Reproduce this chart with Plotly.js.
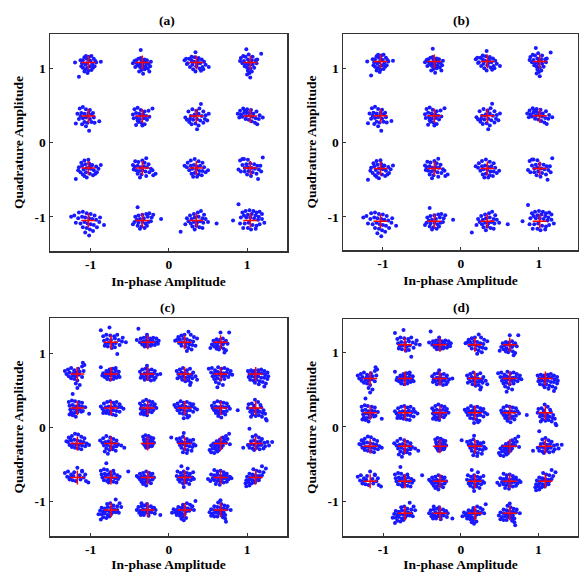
<!DOCTYPE html>
<html><head><meta charset="utf-8">
<script src="https://cdn.plot.ly/plotly-3.0.1.min.js"></script>
<style>html,body{margin:0;padding:0;background:#fff;} #chart{width:579px;height:572px;}</style>
</head><body><div id="chart"></div>
<script>
// ---- text ----
const panelTitles = ['(a)', '(b)', '(c)', '(d)'];
const xAxisTitle = 'In-phase Amplitude';
const yAxisTitle = 'Quadrature Amplitude';
const tickVals = [-1, 0, 1];
const tickText = ['-1', '0', '1'];

// ---- ideal constellation points (red crosses) ----
const colsA = [-1.03, -0.34, 0.35, 1.04];
const rowsA = [1.08, 0.36, -0.34, -1.05];
const colsB = [-1.03, -0.34, 0.34, 1.01];
const rowsB = [1.09, 0.36, -0.35, -1.06];
const colsC = [-1.17, -0.74, -0.27, 0.20, 0.66, 1.11];
const rowsC = [1.15, 0.72, 0.26, -0.22, -0.68, -1.12];
const colsD = [-1.17, -0.72, -0.27, 0.18, 0.63, 1.09];
const rowsD = [1.10, 0.65, 0.19, -0.26, -0.73, -1.16];

// ---- received symbol offsets from each ideal point (hundredths), read per cluster ----
// 16-QAM clusters, rows top->bottom, columns left->right (panels a and b show the same noise pattern)
const noise16 = [
"-17,0 -12,-19 -7,3 -5,7 -3,9 1,8 4,9 7,5 10,0 5,-2 2,-5 -1,-7 -4,-9 -7,-7 -9,-5 -2,-1 3,2 0,-11 -5,-12 6,-7 -8,-1 8,-5 -2,5 -4,-3 16,1 1,3 -10,3 4,-10 -1,-14 9,2",
"-2,17 -12,-1 11,1 -8,3 -5,5 -2,6 3,4 6,3 8,-2 4,-5 0,-3 -3,-6 -6,-4 -9,-6 -1,-10 3,-9 7,-8 -4,-12 1,-15 9,-12 -7,-1 2,1 -1,2 5,-1 -3,-2 10,-5 -10,2 0,-7",
"-1,14 -15,3 16,-6 -12,-2 -9,5 -6,8 -2,7 3,6 7,4 10,1 12,-3 8,-6 4,-8 0,-5 -4,-9 -8,-6 -11,-1 -3,1 1,-2 5,-1 -1,-12 6,-11 -6,3 2,3 9,-9 -13,5 -5,-3",
"14,12 -5,18 0,-20 -12,6 -9,9 -6,8 -2,11 3,8 -13,2 -8,2 -3,4 2,3 7,3 -6,-2 -2,-3 3,-3 8,-1 -4,-7 0,-8 -3,-11 -1,-14 -4,-16 2,-12 -7,-5 5,-7 -10,-1 9,4 -1,1",
"-16,-10 1,-20 14,-7 -11,10 -7,12 -3,9 2,8 -14,3 -9,4 -5,3 0,4 4,2 7,-2 -12,-4 -7,-3 -3,-2 2,-4 -5,-8 -1,-9 4,-8 -8,-11 -3,-14 -10,0 6,4 -1,0 8,-9",
"13,10 -12,2 -10,9 -6,11 -2,8 3,6 -8,4 -4,3 1,2 5,0 -11,-3 -7,-2 -3,-4 2,-3 6,-5 9,-1 -5,-8 -1,-9 3,-11 -8,-12 0,-13 8,7 -2,1 -6,-6",
"6,16 1,-18 16,3 -14,-2 -10,6 -5,9 0,7 4,10 9,6 12,1 -12,-5 -7,0 -2,2 3,3 7,0 11,-4 -9,-8 -4,-5 1,-4 5,-6 9,-9 -6,-11 -1,-10 3,-13 -3,0 -8,-4 14,-6",
"16,-2 -16,3 -13,7 -9,10 -4,9 1,8 -12,2 -8,4 -4,5 0,4 4,3 8,6 -10,-1 -5,0 -1,1 3,-1 7,-3 11,-4 -6,-4 -2,-5 2,-7 6,-9 9,-11 -14,-2 12,1 -7,7",
"-16,-15 16,4 -12,1 -9,7 -5,10 0,11 -13,-3 -8,3 -4,5 1,6 5,4 10,2 13,-1 -10,-6 -6,-2 -2,0 3,-1 7,-3 11,-6 -7,-9 -3,-6 2,-8 6,-10 -2,-13 -5,-11 3,2 9,-8",
"5,13 -12,4 17,-8 -9,9 -5,8 0,10 3,7 8,5 -10,2 -6,3 -2,1 2,2 6,1 11,-1 -8,-3 -4,-4 0,-3 4,-5 9,-6 13,-3 -6,-8 -1,-9 5,-11 -3,-13 14,-10 -11,-2",
"-15,3 15,-3 -11,7 -7,10 -2,12 3,9 8,7 -12,1 -7,3 -3,4 1,2 5,3 10,1 -9,-3 -5,-1 0,-2 4,-4 8,-4 12,-6 -6,-8 -2,-7 3,-9 7,-10 -4,-12 1,-12",
"16,14 10,-15 -15,-2 -13,10 -8,12 -3,11 -10,4 -5,5 0,6 5,5 9,3 -7,0 -3,1 2,0 6,-1 11,-2 14,-5 -12,-5 -7,-5 -2,-4 3,-6 8,-8 -4,-9 1,-11 -10,12 13,3",
"-22,5 1,-20 20,-6 -16,-3 -12,11 -7,12 -2,10 3,9 8,7 -13,3 -8,5 -4,4 1,3 5,2 10,1 14,-2 -10,-4 -5,-2 -1,-4 3,-5 7,-6 11,-9 -7,-9 -2,-10 2,-12 6,-14 -4,-16 15,4 -18,7",
"-6,18 24,2 -12,-5 -9,5 -5,7 0,8 5,9 9,10 14,8 -7,1 -3,2 2,3 7,5 12,4 -10,-2 -5,-3 0,-2 4,-4 8,-2 -6,-7 -1,-8 3,-10 6,-7 -3,-11 11,-1",
"-20,-15 26,-4 -12,3 -8,7 -3,9 2,11 6,13 10,8 -10,-1 -6,2 -2,4 3,5 8,3 12,2 15,-2 -7,-4 -3,-2 1,-3 5,-1 9,-3 -5,-8 0,-7 4,-9 8,-10 -2,-12 -14,-5",
"-15,22 -22,0 -10,11 -6,13 -1,14 4,13 8,11 12,12 15,9 -8,7 -3,8 2,9 7,7 11,5 -12,4 -5,4 0,4 5,3 10,1 15,2 -13,-4 -7,-4 -2,-3 3,-6 8,-7 12,-5 -9,-10 -3,-10 1,-12 7,-11 18,-3"
];

// 32-QAM (cross) clusters, rows top->bottom, columns left->right, corners empty (panels c and d share the pattern)
const noise32 = [
"-13,16 -2,20 8,-16 19,0 -10,8 -6,10 -1,9 4,8 8,10 -9,2 -5,4 0,3 5,5 10,3 14,1 -7,-2 -3,-1 2,-3 6,-1 11,-4 -4,-6 1,-8 5,-7 -8,-5 15,6",
"-12,18 -14,3 14,2 -9,5 -5,6 -1,7 3,5 7,6 11,5 -10,0 -6,1 -2,2 2,1 6,2 10,0 13,-2 -7,-3 -3,-2 1,-4 5,-3 9,-4 -4,-6 0,-6 4,-5 -1,10",
"5,14 16,5 -12,2 -8,7 -4,9 0,10 8,10 12,7 -10,3 -6,4 -1,5 3,4 7,2 11,1 -7,-1 -3,0 2,-1 6,-3 10,-4 14,-5 -4,-5 1,-6 5,-8 9,-10 3,-12",
"0,13 11,13 -13,-8 -9,2 -5,4 -1,3 3,5 7,2 -11,-3 -7,-1 -3,0 1,-1 5,0 9,-2 -8,-6 -4,-5 0,-7 4,-9 7,-11 -2,-10 5,-14 3,-3 -5,-9",
"7,15 0,-19 -16,4 -12,6 -8,8 -4,5 1,7 6,10 9,12 -14,0 -10,2 -5,1 -1,2 3,3 8,4 -11,-3 -6,-2 -2,-3 2,-1 6,-4 -8,-6 -4,-7 0,-9 -2,-13 3,-15",
"-13,9 -10,1 -6,4 -2,6 2,7 6,5 10,3 -11,-2 -7,0 -3,1 1,2 5,1 9,-1 11,-4 -8,-4 -4,-3 0,-2 4,-3 7,-5 -5,-7 -1,-8 3,-7 -2,3 6,8",
"-10,3 -7,6 -3,7 1,5 5,6 9,4 -8,-1 -4,1 0,2 4,0 8,1 12,-1 16,0 -6,-4 -2,-3 2,-4 6,-3 10,-5 -4,-8 0,-7 4,-9 8,-8 -1,11 -9,-5",
"-10,4 -6,6 -2,8 3,5 7,7 11,2 -8,0 -4,2 0,1 4,0 9,-1 14,-3 16,-8 -6,-4 -2,-3 2,-5 6,-4 10,-6 -3,-8 1,-10 5,-9 8,-12 7,-15 -9,-6",
"-15,7 -11,8 -7,5 -3,9 1,7 5,8 9,6 13,4 -12,2 -8,1 -4,3 0,2 4,1 8,2 12,0 15,-1 -10,-3 -6,-2 -2,-1 2,-3 6,-2 10,-4 -8,-7 -4,-6 0,-8 5,-7 -6,-11 -2,-13 -4,-18 3,-15",
"-10,4 -6,5 -2,4 3,5 7,6 11,4 15,2 -8,0 -4,1 0,0 4,2 8,1 12,-1 16,-3 -9,-4 -5,-3 -1,-4 3,-3 7,-5 11,-5 15,-7 -7,-8 -3,-9 1,-8 5,-10 9,-11 13,-13 -1,-12 4,-14 11,-17",
"-6,19 15,-8 -11,8 -7,10 -3,9 2,8 6,7 -10,3 -6,4 -2,2 2,3 6,2 10,1 -9,-2 -5,-1 -1,-3 3,-2 7,-4 -8,-6 -4,-7 0,-6 -6,-10 -2,-12 5,-5 -10,-9",
"-13,2 -9,6 -5,8 -1,9 3,7 7,8 11,5 -11,-1 -7,1 -3,2 1,1 5,3 9,1 13,1 16,-1 -9,-4 -5,-3 -1,-4 3,-3 7,-4 11,-5 -6,-7 -2,-8 2,-9 6,-10 -10,-7",
"-10,6 -6,9 -2,11 2,9 6,8 9,5 -8,3 -4,4 0,3 4,4 8,2 11,0 -9,-1 -5,-1 -1,-2 3,-1 7,-3 -7,-5 -3,-6 1,-5 5,-6 -5,-9 -1,-10 -9,-8",
"-13,4 -9,6 -5,9 -1,7 3,8 7,6 11,5 -11,1 -7,2 -3,3 1,2 5,1 9,2 13,0 16,-2 -9,-3 -5,-2 -1,-3 3,-4 7,-3 11,-5 -6,-7 -2,-8 2,-9 6,-11 -1,-14 4,-13",
"22,-3 -11,3 -8,7 -4,9 0,8 4,7 8,6 -10,0 -6,2 -2,1 2,2 6,1 10,2 12,-1 -8,-3 -4,-4 0,-3 4,-5 8,-4 -6,-7 -2,-8 2,-7 6,-9 -3,-11 1,-13 -7,-2",
"-1,11 3,8 -9,5 -5,6 -2,3 6,4 -10,0 -6,-1 -2,1 2,-2 7,1 10,-3 -7,-5 -3,-4 1,-6 5,-5 9,-7 12,-8 -4,-9 0,-11 4,-10 8,-12 13,-15 14,-17 -6,-12",
"-14,3 -11,8 -7,10 -3,13 1,12 5,9 9,7 -12,2 -8,4 -4,5 0,4 4,3 8,2 12,0 15,-2 -10,-2 -6,-1 -2,-1 2,-2 6,-3 10,-4 -7,-5 -3,-6 1,-7 5,-8 -9,6",
"-14,4 -10,7 -6,10 -1,8 3,6 7,4 -11,1 -7,2 -3,3 1,1 5,0 9,-1 13,-3 17,-6 -9,-3 -5,-2 -1,-4 3,-5 7,-4 -6,-7 -2,-9 2,-8 6,-10 -4,-14 -8,-11",
"-6,9 -3,11 1,10 4,8 7,7 -5,5 -1,6 3,4 6,3 -4,2 0,1 4,0 8,1 -5,-1 -1,-2 3,-3 6,-2 -3,-4 1,-5 5,-4 -2,-6 2,3",
"-17,8 -1,14 -10,6 -6,7 -2,9 3,6 7,4 11,5 -8,2 -4,3 0,1 4,2 8,1 12,-1 14,-3 -6,-2 -2,-1 2,-3 6,-4 10,-5 -4,-6 0,-8 4,-9 -2,-12 3,-13 9,-10",
"11,13 7,10 3,8 -1,5 5,5 9,6 -5,3 -1,1 3,2 7,1 -9,0 -5,-1 -1,-2 3,-3 12,-1 -12,-3 -7,-4 -3,-5 1,-6 -10,-7 -6,-8 -2,-9 -14,-9 -12,-12 -8,-13 -4,-11",
"-8,20 21,2 -16,-6 -4,9 0,11 4,8 8,6 -6,3 -2,4 2,2 6,3 11,1 15,2 -10,-2 -6,-1 -2,-2 3,-3 7,-2 12,-4 17,-3 -8,-6 -4,-7 1,-6 5,-8 10,-7 -2,-9",
"0,13 -16,6 -12,8 -8,4 -4,7 6,9 10,4 -13,1 -9,0 -5,2 3,3 8,0 -10,-3 -6,-4 4,-3 11,-5 14,-7 -2,-5 6,8",
"22,8 -6,19 -13,9 -9,11 -5,10 -1,7 3,9 -12,4 -8,5 -4,4 0,3 4,5 8,3 -11,0 -7,1 -3,-1 1,0 5,-1 9,-2 11,1 -9,-4 -5,-5 -1,-4 3,-6 7,-7 -3,-7",
"-14,2 -10,5 -6,6 -2,8 2,6 6,5 -12,0 -8,1 -4,2 0,1 4,2 8,0 -10,-3 -6,-2 -2,-3 2,-4 6,-3 -8,-6 -4,-7 0,-6 4,-8 -2,-11 -6,-9",
"-4,15 4,12 -9,8 -5,6 -1,8 3,6 7,5 11,7 -10,2 -6,1 -2,3 2,1 6,2 10,0 12,-2 -8,-3 -4,-2 0,-4 4,-3 8,-4 -6,-6 -2,-8 2,-7 6,-9 -1,-13",
"-16,-2 -8,10 -4,8 0,9 4,7 8,5 -12,4 -8,3 -4,4 0,2 4,3 8,2 12,1 14,-1 -10,-1 -6,0 -2,-1 2,-2 6,-1 10,-3 -13,-5 -8,-4 -4,-5 0,-6 4,-7 -6,-9 -1,-10 8,-6",
"8,15 13,12 -3,11 1,9 5,8 10,7 -8,5 -4,4 0,3 4,2 8,3 -11,1 -7,0 -3,1 1,-1 5,0 -12,-4 -8,-3 -4,-4 0,-5 4,-4 -13,-8 -9,-7 -5,-8 -1,-7 -12,-12 -8,-11",
"6,14 11,9 -5,8 -1,9 3,6 8,5 13,4 -12,3 -8,2 -4,4 0,3 4,1 8,0 -14,-1 -10,-2 -6,-1 -2,-2 2,-3 6,-3 10,-4 -16,-6 -12,-6 -8,-5 -4,-7 0,-6 -10,-10 -6,-11 -2,-9 -13,-13",
"-8,9 -1,8 -12,4 -8,5 -4,6 0,4 4,5 8,3 -14,0 -10,-1 -6,1 -2,0 2,-1 6,1 10,0 -11,-4 -7,-3 -3,-4 1,-5 5,-3 9,-5 16,-7 -5,-7 1,-8 -9,-7",
"14,12 3,9 7,7 10,5 -2,7 -8,4 -4,3 0,4 4,2 8,1 12,0 -14,1 -10,0 -6,-1 -2,0 2,-2 6,-1 -16,-4 -12,-3 -8,-4 -4,-5 0,-6 -10,-7 -6,-8 -2,-9 -4,-12 -1,-14 2,-11",
"0,13 -3,10 1,8 5,6 9,5 -8,5 -4,4 0,3 4,2 8,1 13,0 -12,1 -8,0 -4,-1 0,-2 4,-3 -14,-3 -10,-5 -6,-4 -2,-5 2,-6 6,-7 -12,-8 -8,-9 -4,-9 3,-10 6,-12 7,-16"
];

function parseCluster(s) {
  return s.trim().split(/\s+/).map(p => p.split(',').map(Number));
}

// build constellation points: list of [cx, cy] in cluster order
function gridPoints(cols, rows, crossShape) {
  const pts = [];
  const n = cols.length;
  rows.forEach((y, r) => cols.forEach((x, c) => {
    const corner = crossShape && (r === 0 || r === rows.length - 1) && (c === 0 || c === n - 1);
    if (!corner) pts.push([x, y]);
  }));
  return pts;
}

function panelTraces(cols, rows, noise, crossShape, ax) {
  const ideal = gridPoints(cols, rows, crossShape);
  const rx = [], ry = [];
  ideal.forEach((p, i) => {
    parseCluster(noise[i]).forEach(o => { rx.push(p[0] + o[0] / 100); ry.push(p[1] + o[1] / 100); });
  });
  return [
    {type: 'scatter', mode: 'markers', x: rx, y: ry, xaxis: 'x' + ax, yaxis: 'y' + ax,
     marker: {color: 'rgb(25,25,255)', size: 4, line: {width: 0}}, showlegend: false, hoverinfo: 'skip'},
    {type: 'scatter', mode: 'markers', x: ideal.map(p => p[0]), y: ideal.map(p => p[1]),
     xaxis: 'x' + ax, yaxis: 'y' + ax,
     marker: {symbol: 'cross-thin-open', color: 'rgb(255,0,0)', size: 10, line: {width: 1.5, color: 'rgb(255,0,0)'}},
     showlegend: false, hoverinfo: 'skip'}
  ];
}

const data = [].concat(
  panelTraces(colsA, rowsA, noise16, false, ''),
  panelTraces(colsB, rowsB, noise16, false, '2'),
  panelTraces(colsC, rowsC, noise32, true, '3'),
  panelTraces(colsD, rowsD, noise32, true, '4')
);

const W = 579, H = 572;
const fontFam = '"Liberation Serif", "Times New Roman", serif';
function xAx(x0, x1, range, anchor) {
  return {domain: [x0 / W, x1 / W], range: range, anchor: anchor,
    tickvals: tickVals, ticktext: tickText, ticks: 'inside', ticklen: 3, tickwidth: 1, tickcolor: '#333',
    showline: true, linecolor: '#333', linewidth: 1.5, mirror: true, showgrid: false, zeroline: false,
    tickfont: {family: fontFam, size: 13.5, color: '#000', weight: 'bold'},
    title: {text: xAxisTitle, font: {family: fontFam, size: 13.5, color: '#000', weight: 'bold'}, standoff: 6}};
}
function yAx(y0, y1, range, anchor) {
  return {domain: [1 - y1 / H, 1 - y0 / H], range: range, anchor: anchor,
    tickvals: tickVals, ticktext: tickText, ticks: 'inside', ticklen: 3, tickwidth: 1, tickcolor: '#333',
    showline: true, linecolor: '#333', linewidth: 1.5, mirror: true, showgrid: false, zeroline: false,
    tickfont: {family: fontFam, size: 13.5, color: '#000', weight: 'bold'},
    title: {text: yAxisTitle, font: {family: fontFam, size: 13.5, color: '#000', weight: 'bold'}, standoff: 8}};
}

const layout = {
  width: W, height: H, margin: {l: 0, r: 0, t: 0, b: 0},
  paper_bgcolor: '#fff', plot_bgcolor: '#fff',
  xaxis:  xAx(50, 287, [-1.52, 1.51], 'y'),
  yaxis:  yAx(34, 251, [-1.46, 1.465], 'x'),
  xaxis2: xAx(343, 578, [-1.51, 1.50], 'y2'),
  yaxis2: yAx(34, 250, [-1.446, 1.46], 'x2'),
  xaxis3: xAx(50, 287, [-1.52, 1.51], 'y3'),
  yaxis3: yAx(318, 536, [-1.473, 1.477], 'x3'),
  xaxis4: xAx(343, 578, [-1.52, 1.51], 'y4'),
  yaxis4: yAx(319, 536, [-1.465, 1.447], 'x4'),
  annotations: [
    [167, 21], [461, 21], [167, 307], [461, 307]
  ].map((p, i) => ({text: panelTitles[i], xref: 'paper', yref: 'paper', x: p[0] / W, y: 1 - p[1] / H,
     xanchor: 'center', yanchor: 'middle', showarrow: false,
     font: {family: fontFam, size: 13.5, color: '#000', weight: 'bold'}}))
};

Plotly.newPlot('chart', data, layout, {displayModeBar: false, staticPlot: true});
</script></body></html>
